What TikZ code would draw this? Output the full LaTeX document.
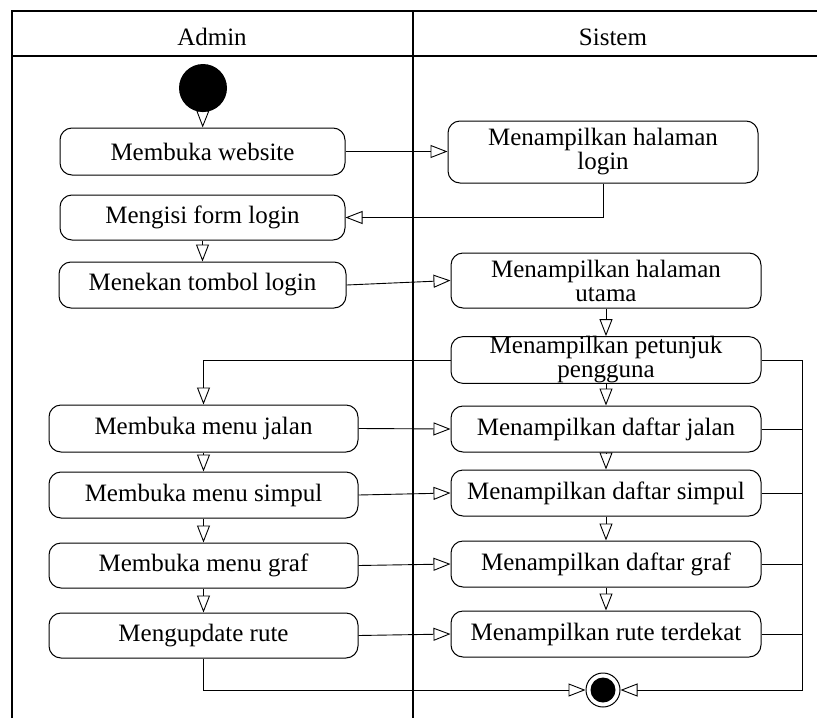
\documentclass[tikz,border=0pt]{standalone}
\usepackage{fontspec}
\setmainfont{Liberation Serif}
\usetikzlibrary{arrows.meta}
\begin{document}
\begin{tikzpicture}[x=1pt,y=-1pt,
  txt/.style={font=\fontsize{25}{24}\selectfont},
  act/.style={txt, draw, rounded corners=12pt, line width=1pt, align=center, inner sep=0pt},
  flow/.style={line width=0.9pt, -{Triangle[open,length=17pt,width=13pt]}},
  link/.style={line width=0.9pt},
  lane/.style={line width=1.4pt}]
\useasboundingbox (0,0) rectangle (817,718);
% swimlane frame
\draw[lane] (12,718) -- (12,11) -- (817,11);
\draw[lane] (12,56) -- (817,56);
\draw[lane] (413,11) -- (413,718);
\node[txt] (hAdmin) at (212,37) {Admin};
\node[txt] (hSistem) at (613,37) {Sistem};

% initial and final nodes
\node[circle, fill=black, minimum size=48pt, inner sep=0pt] (start) at (203,88) {};
\node[circle, draw, fill=white, line width=1pt, minimum size=34pt, inner sep=0pt] (finish) at (603,690) {};
\fill (finish.center) circle (12.5pt);

% Admin lane
\node[act, minimum width=285pt, minimum height=47pt] (web) at (202.5,151.5) {Membuka website};
\node[act, minimum width=285pt, minimum height=45pt] (form) at (202.5,217.5) {Mengisi form login};
\node[act, minimum width=287pt, minimum height=46pt] (tombol) at (202.5,285) {Menekan tombol login};
\node[act, minimum width=309pt, minimum height=47pt] (mjalan) at (203.5,428.5) {Membuka menu jalan};
\node[act, minimum width=309pt, minimum height=46pt] (msimpul) at (203.5,495) {Membuka menu simpul};
\node[act, minimum width=309pt, minimum height=45pt] (mgraf) at (203.5,565.5) {Membuka menu graf};
\node[act, minimum width=309pt, minimum height=45pt] (mrute) at (203.5,635.5) {Mengupdate rute};

% Sistem lane
\node[act, minimum width=310pt, minimum height=62pt] (hlogin) at (603,152) {Menampilkan halaman\\login};
\node[act, minimum width=310pt, minimum height=55pt] (hutama) at (606,280.5) {Menampilkan halaman\\utama};
\node[act, minimum width=310pt, minimum height=46pt] (petunjuk) at (606,360) {Menampilkan petunjuk\\pengguna};
\node[act, minimum width=310pt, minimum height=46pt] (djalan) at (606,429) {Menampilkan daftar jalan};
\node[act, minimum width=310pt, minimum height=46pt] (dsimpul) at (606,493) {Menampilkan daftar simpul};
\node[act, minimum width=310pt, minimum height=46pt] (dgraf) at (606,564) {Menampilkan daftar graf};
\node[act, minimum width=310pt, minimum height=46pt] (drute) at (606,634) {Menampilkan rute terdekat};

\coordinate (bus) at (802,690);

% control flow
\draw[flow] (start) -- (web);
\draw[flow] (web.east) -- (hlogin.west |- web.east);
\draw[flow] (hlogin.south) |- (form.east);
\draw[flow] (form) -- (tombol);
\draw[flow] (tombol.east) -- (hutama.west);
\draw[flow] (hutama) -- (petunjuk);
\draw[flow] (petunjuk.west) -| (mjalan.north);
\draw[flow] (petunjuk) -- (djalan);
\draw[flow] (mjalan.east) -- (djalan.west);
\draw[flow] (mjalan) -- (msimpul);
\draw[flow] (msimpul.east) -- (dsimpul.west);
\draw[flow] (djalan) -- (dsimpul);
\draw[flow] (msimpul) -- (mgraf);
\draw[flow] (dsimpul) -- (dgraf);
\draw[flow] (mgraf.east) -- (dgraf.west);
\draw[flow] (mgraf) -- (mrute);
\draw[flow] (dgraf) -- (drute);
\draw[flow] (mrute.east) -- (drute.west);
\draw[flow] (mrute.south) |- (finish.west);
\draw[flow] (petunjuk.east) -| (bus) -- (finish.east);
\draw[link] (djalan.east) -- (djalan.east -| bus);
\draw[link] (dsimpul.east) -- (dsimpul.east -| bus);
\draw[link] (dgraf.east) -- (dgraf.east -| bus);
\draw[link] (drute.east) -- (drute.east -| bus);
\end{tikzpicture}
\end{document}
